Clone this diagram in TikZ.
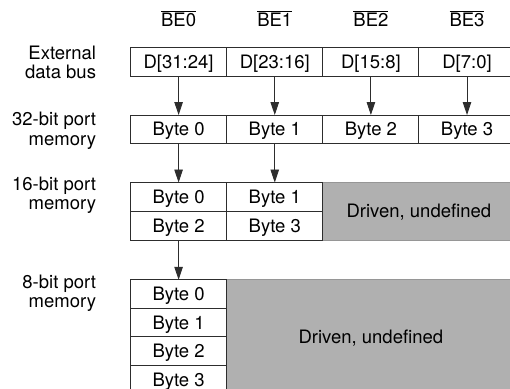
\documentclass[tikz,border=0pt]{standalone}
\usepackage{fontspec}
\setmainfont{TeX Gyre Heros}
\usetikzlibrary{arrows.meta}
\definecolor{linec}{RGB}{45,45,45}
\definecolor{grayfill}{RGB}{176,176,176}
\definecolor{grayline}{RGB}{150,150,150}
\begin{document}
\begin{tikzpicture}[x=1pt,y=-1pt,
  every node/.style={font=\fontsize{18.5}{19.3}\selectfont, inner sep=0pt, outer sep=0pt},
  cell/.style={draw=linec, line width=0.9pt, fill=white, minimum width=96.2pt,
    text height=13.3pt, text depth=0pt, anchor=center},
  rowA/.style={cell, minimum height=28.5pt},
  rowB/.style={cell, minimum height=28.75pt},
  rowC/.style={cell, minimum height=28.45pt},
  grayblk/.style={draw=grayline, line width=0.9pt, fill=grayfill,
    text height=13.3pt, text depth=0pt, anchor=center},
  lbl/.style={anchor=base east, align=right},
  belbl/.style={anchor=base},
  arr/.style={draw=linec, line width=0.9pt, -{Triangle[length=13pt,width=8.5pt]}}]
\useasboundingbox (0,0) rectangle (510,388);
% column labels
\node[belbl] (be0) at (178.6,26.5) {$\overline{\hbox{BE0}}$};
\node[belbl] (be1) at (274.75,26.5) {$\overline{\hbox{BE1}}$};
\node[belbl] (be2) at (370.9,26.5) {$\overline{\hbox{BE2}}$};
\node[belbl] (be3) at (467,26.5) {$\overline{\hbox{BE3}}$};
% row labels (base = last line)
\node[lbl] (lext) at (96,78.6) {External\\data bus};
\node[lbl] (l32) at (96,145) {32-bit port\\memory};
\node[lbl] (l16) at (96,209.3) {16-bit port\\memory};
\node[lbl] (l8) at (96,307.6) {8-bit port\\memory};
% external data bus
\node[rowA] (d1) at (178.6,61.75) {D[31:24]};
\node[rowA] (d2) at (274.75,61.75) {D[23:16]};
\node[rowA] (d3) at (370.9,61.75) {D[15:8]};
\node[rowA] (d4) at (467,61.75) {D[7:0]};
% 32-bit port
\node[rowA] (p1) at (178.6,129.25) {Byte 0};
\node[rowA] (p2) at (274.75,129.25) {Byte 1};
\node[rowA] (p3) at (370.9,129.25) {Byte 2};
\node[rowA] (p4) at (467,129.25) {Byte 3};
% 16-bit port
\node[grayblk, minimum width=192.2pt, minimum height=57.5pt] (g16) at (418.9,211.25) {Driven, undefined};
\node[rowB] (h1) at (178.6,196.9) {Byte 0};
\node[rowB] (h2) at (274.75,196.9) {Byte 1};
\node[rowB] (h3) at (178.6,225.65) {Byte 2};
\node[rowB] (h4) at (274.75,225.65) {Byte 3};
% 8-bit port
\node[grayblk, minimum width=288.3pt, minimum height=113.8pt] (g8) at (370.85,336.6) {Driven, undefined};
\node[rowC] (e1) at (178.6,294) {Byte 0};
\node[rowC] (e2) at (178.6,322.45) {Byte 1};
\node[rowC] (e3) at (178.6,350.9) {Byte 2};
\node[rowC] (e4) at (178.6,379.35) {Byte 3};
% arrows
\draw[arr] (d1.south) -- (p1.north);
\draw[arr] (d2.south) -- (p2.north);
\draw[arr] (d3.south) -- (p3.north);
\draw[arr] (d4.south) -- (p4.north);
\draw[arr] (p1.south) -- (h1.north);
\draw[arr] (p2.south) -- (h2.north);
\draw[arr] (h3.south) -- (e1.north);
\end{tikzpicture}
\end{document}
